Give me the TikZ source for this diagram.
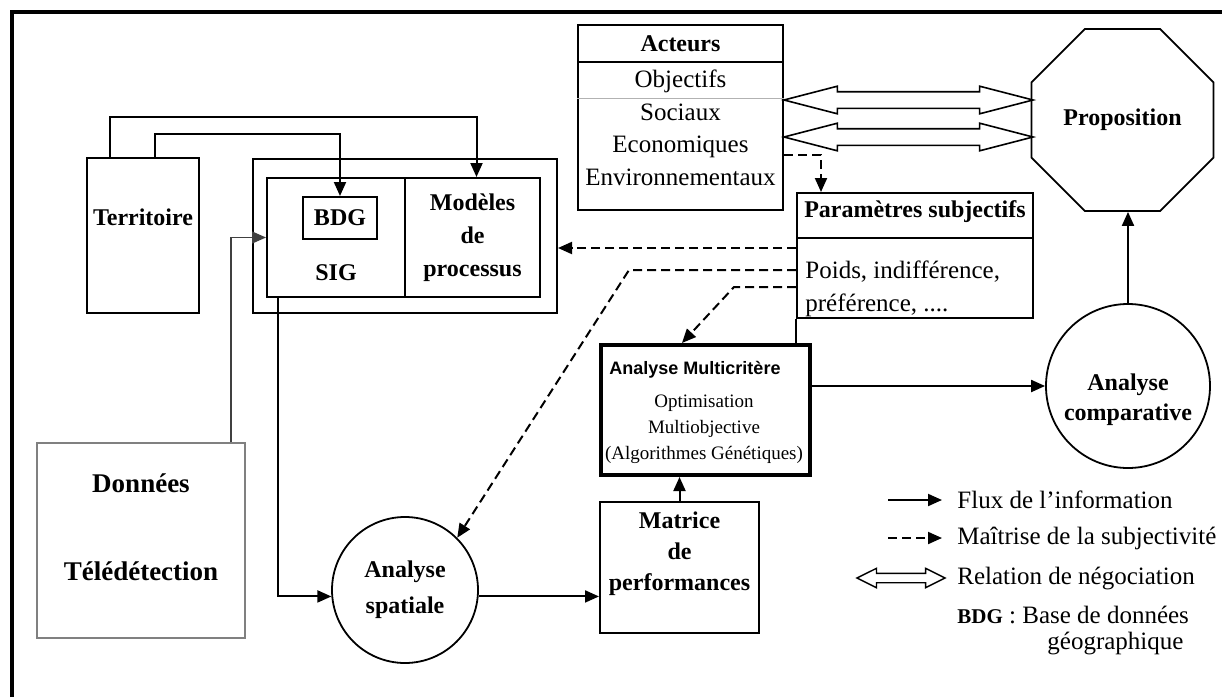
\documentclass[tikz,border=0pt]{standalone}
\usepackage{fontspec}
\setmainfont{Liberation Serif}
\newfontfamily\arialfont{Liberation Sans}
\usetikzlibrary{arrows.meta, positioning, calc, shapes.geometric, shapes.arrows}

\begin{document}
\begin{tikzpicture}[
  x=0.5pt, y=-0.5pt,
  box/.style={draw, line width=1pt, inner sep=0pt},
  lbl/.style={font=\bfseries\fontsize{12}{16.5}\selectfont, align=center, inner sep=0pt},
  txt/.style={font=\fontsize{12.5}{16.25}\selectfont, align=center, inner sep=0pt},
  arr/.style={-{Triangle[length=7pt, width=6pt]}, line width=1pt},
  darr/.style={arr, dash pattern=on 4.5pt off 2.5pt},
  neg/.style={double arrow, draw, line width=0.8pt, inner xsep=0pt, inner ysep=3.75pt,
    minimum height=124.5pt, double arrow head extend=2.75pt, double arrow tip angle=29},
  negsmall/.style={neg, line width=0.7pt, inner ysep=2pt, minimum height=44pt,
    double arrow head extend=2.5pt, double arrow tip angle=53},
]
  \useasboundingbox (0,0) rectangle (1222,697);
  % frame
  \draw[line width=2pt] (12,697) -- (12,12) -- (1222,12);

  % Territoire and SIG block
  \node[box, minimum width=56pt, minimum height=77.5pt] (terr) at (143,235.5) {};
  \node[lbl] (terrlbl) at (143,217) {Territoire};
  \node[box, minimum width=152pt, minimum height=77pt] (sigout) at (405,236) {};
  \node[box, minimum width=69pt, minimum height=59.5pt] (sig) at (336,237.5) {};
  \node[lbl] (siglbl) at (336,273) {SIG};
  \node[box, lbl, minimum width=67.5pt, minimum height=59.5pt] (mod) at (472.5,237.5) {Modèles\\de\\processus};
  \node[box, lbl, minimum width=37pt, minimum height=21pt] (bdg) at (340,218) {BDG};

  % Donnees
  \node[box, draw=gray, line width=0.6pt, minimum width=104pt, minimum height=97.5pt] (don) at (141,540.5) {};
  \node[font=\bfseries\fontsize{13.5}{44}\selectfont, align=center] (donlbl) at (141,527) {Données\\Télédétection};

  % Acteurs
  \node[box, minimum width=102.5pt, minimum height=92.5pt] (act) at (680.5,117.5) {};
  \node[lbl] (acthead) at (680.5,44) {Acteurs};
  \draw[line width=1pt] (act.west |- 0,62) -- (act.east |- 0,62);
  \draw[gray!60, line width=0.5pt] (act.west |- 0,98) -- (act.east |- 0,98);
  \node[txt] (actlist) at (680.5,128) {Objectifs\\Sociaux\\Economiques\\Environnementaux};

  % Proposition
  \node[draw, line width=0.9pt, regular polygon, regular polygon sides=8, minimum size=98.5pt,
    inner sep=0pt, lbl] (prop) at (1122.5,120) {Proposition};

  % negociation
  \node[neg] (neg1) at (908.5,100) {};
  \node[neg] (neg2) at (908.5,137) {};

  % Parametres subjectifs
  \node[box, minimum width=118pt, minimum height=62.5pt] (param) at (915,255.5) {};
  \node[lbl] (paramhead) at (915,212) {Paramètres subjectifs};
  \draw[line width=1pt] (param.west |- 0,238) -- (param.east |- 0,238);
  \node[txt, align=left, anchor=west] (paramlist) at (805,289) {Poids, indifférence,\\préférence, ....};

  % Analyse multicritere
  \node[box, line width=2pt, minimum width=104.5pt, minimum height=65pt] (multi) at (705.5,410) {};
  \node[font=\arialfont\bfseries\fontsize{9}{11}\selectfont] (multihead) at (695,370) {Analyse Multicritère};
  \node[font=\fontsize{9.5}{13}\selectfont, align=center] (multilist) at (704,429) {Optimisation\\Multiobjective\\(Algorithmes Génétiques)};
  \draw[line width=1pt] (param.south west) -- (param.south west |- multi.north);

  % Matrice, analyses
  \node[box, minimum width=79.5pt, minimum height=65.5pt] (mat) at (679.5,567.5) {};
  \node[lbl, font=\bfseries\fontsize{12}{15.5}\selectfont] (matlbl) at (679.5,554) {Matrice\\de\\performances};
  \node[draw, circle, line width=0.9pt, minimum size=73pt, lbl, font=\bfseries\fontsize{12}{18}\selectfont] (spat) at (405,590) {Analyse\\spatiale};
  \node[draw, circle, line width=0.9pt, minimum size=82pt, inner sep=0pt] (comp) at (1128,386) {};
  \node[lbl, font=\bfseries\fontsize{12}{15}\selectfont] (complbl) at (1128,400) {Analyse\\comparative};

  % information flow
  \draw[arr] ([xshift=6pt]terr.north) -- ++(0,-23) -| (bdg.north);
  \draw[arr] ([xshift=-16.5pt]terr.north) -- ++(0,-40) -| ([xshift=2pt]mod.north);
  \draw[arr, line width=0.6pt, black!75] ([xshift=45pt]don.north) |- (sig.west);
  \draw[arr] ([xshift=-29pt]sig.south) |- (spat.185);
  \draw[arr] (spat.355) -- (spat.355 -| mat.west);
  \draw[arr] (mat.north) -- (mat.north |- multi.south);
  \draw[arr] (comp.west -| multi.east) -- (comp.west);
  \draw[arr] (comp.north) -- (comp.north |- prop.south);

  % subjectivity
  \draw[darr] ([yshift=-18.75pt]act.east) -| ([xshift=12.5pt]param.north west);
  \coordinate (pA) at ([yshift=3.75pt]param.west);
  \coordinate (pB) at ([yshift=-7.25pt]param.west);
  \coordinate (pC) at ([yshift=-15.75pt]param.west);
  \draw[darr] (pA) -- (pA -| sigout.east);
  \draw[darr] (pB) -- ++(-167,0) -- (spat.45);
  \draw[darr] (pC) -- ++(-62,0) -- ([xshift=-11.75pt]multi.north);

  % legend
  \coordinate (l1a) at (888,500);
  \coordinate (l1b) at (942,500);
  \coordinate (l2a) at (888,538);
  \coordinate (l2b) at (942,538);
  \draw[arr] (l1a) -- (l1b);
  \draw[darr] (l2a) -- (l2b);
  \node[negsmall] (leg3a) at (901,578) {};
  \node[txt, anchor=west] (leg1) at (957,500) {Flux de l’information};
  \node[txt, anchor=west] (leg2) at (957,538) {Maîtrise de la subjectivité};
  \node[txt, anchor=west] (leg3) at (957,578) {Relation de négociation};
  \node[txt, anchor=west] (leg4) at (957,615) {{\bfseries\fontsize{10.5}{12}\selectfont BDG} : Base de données};
  \node[txt, anchor=west] (leg5) at (1047,643) {géographique};
\end{tikzpicture}
\end{document}
